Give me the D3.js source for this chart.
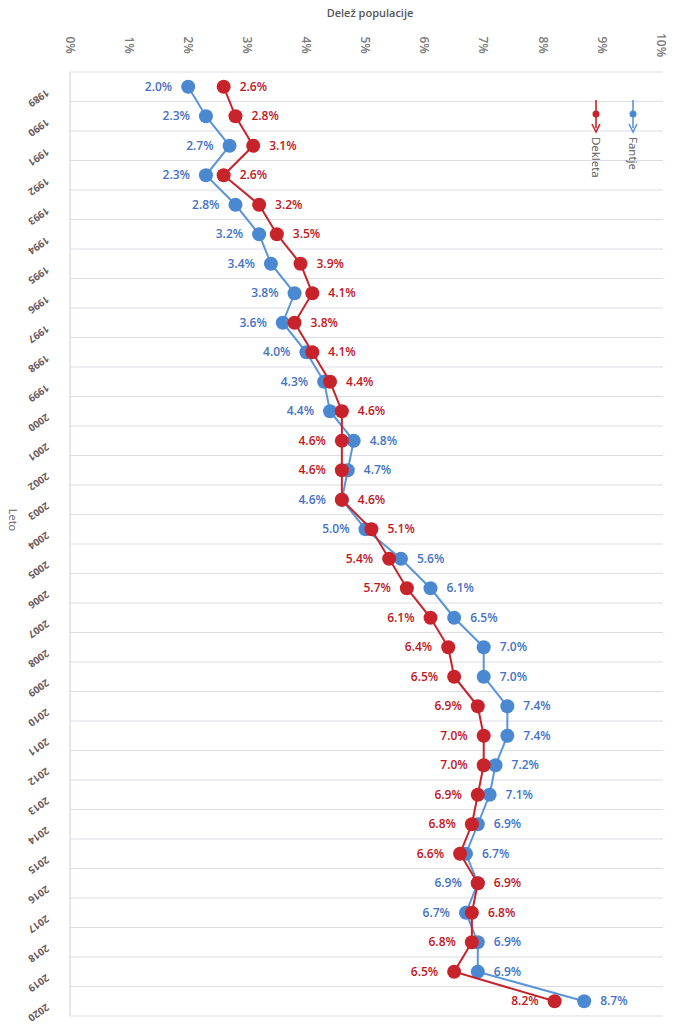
<!DOCTYPE html>
<html>
<head>
<meta charset="utf-8">
<script src="https://cdn.jsdelivr.net/npm/d3@7"></script>
<style>
  body { margin: 0; background: #fff; }
  text { font-family: "Open Sans", "Liberation Sans", sans-serif; }
</style>
</head>
<body>
<script>
var width = 685;
var height = 1029;

// Data
var years = d3.range(1989, 2021);
var fantje = [2.0, 2.3, 2.7, 2.3, 2.8, 3.2, 3.4, 3.8, 3.6, 4.0, 4.3, 4.4, 4.8, 4.7, 4.6, 5.0,
              5.6, 6.1, 6.5, 7.0, 7.0, 7.4, 7.4, 7.2, 7.1, 6.9, 6.7, 6.9, 6.7, 6.9, 6.9, 8.7];
var dekleta = [2.6, 2.8, 3.1, 2.6, 3.2, 3.5, 3.9, 4.1, 3.8, 4.1, 4.4, 4.6, 4.6, 4.6, 4.6, 5.1,
               5.4, 5.7, 6.1, 6.4, 6.5, 6.9, 7.0, 7.0, 6.9, 6.8, 6.6, 6.9, 6.8, 6.8, 6.5, 8.2];
var ticks = d3.range(0, 11);
var seriesNames = ["Fantje", "Dekleta"];

var blue = "#4a88d2";
var blueText = "#4472c4";
var red = "#c8232b";
var redText = "#c0161e";

var svg = d3.select("body")
  .append("svg")
  .attr("width", width)
  .attr("height", height);

var x = d3.scaleLinear().domain([0, 10]).range([70, 661]);
var y = d3.scaleBand().domain(years).range([72, 1016]).padding(0);
var cy = d => y(d) + y.bandwidth() / 2;

// Gridlines between rows
svg.append("g")
  .selectAll("line")
  .data(years.concat(["end"]))
  .enter()
  .append("line")
  .attr("x1", x(0))
  .attr("x2", x(10) + 2)
  .attr("y1", d => d === "end" ? y.range()[1] : y(d))
  .attr("y2", d => d === "end" ? y.range()[1] : y(d))
  .attr("stroke", "#dadde8")
  .attr("stroke-width", 1.2);

svg.append("line")
  .attr("x1", x(0)).attr("x2", x(0))
  .attr("y1", 72).attr("y2", 1016)
  .attr("stroke", "#d3d6e2")
  .attr("stroke-width", 1.2);

// Title and axis labels
svg.append("text")
  .attr("x", 370)
  .attr("y", 17)
  .attr("text-anchor", "middle")
  .attr("font-size", 11)
  .attr("font-weight", 600)
  .attr("fill", "#555")
  .text("Delež populacije");

svg.append("g")
  .selectAll("text")
  .data(ticks)
  .enter()
  .append("text")
  .attr("transform", d => "translate(" + x(d) + ",45) rotate(90)")
  .attr("text-anchor", "middle")
  .attr("dy", "0.35em")
  .attr("font-size", 12)
  .attr("font-weight", 600)
  .attr("fill", "#7a7a7a")
  .text(d => d + "%");

svg.append("text")
  .attr("transform", "translate(9,520) rotate(90)")
  .attr("text-anchor", "middle")
  .attr("font-size", 11)
  .attr("fill", "#666")
  .text("Leto");

svg.append("g")
  .selectAll("text")
  .data(years)
  .enter()
  .append("text")
  .attr("transform", d => "translate(46," + (cy(d) + 2) + ") rotate(145)")
  .attr("text-anchor", "start")
  .attr("font-size", 10)
  .attr("font-weight", 700)
  .attr("fill", "#6a5a5a")
  .text(d => d);

// Lines
var line = vals => d3.line()
  .x((d, i) => x(vals[i]))
  .y(d => cy(d))(years);

svg.append("path")
  .attr("d", line(fantje))
  .attr("fill", "none")
  .attr("stroke", "#5b95d8")
  .attr("stroke-width", 2);

svg.append("g")
  .selectAll("circle")
  .data(years)
  .enter()
  .append("circle")
  .attr("cx", (d, i) => x(fantje[i]))
  .attr("cy", d => cy(d))
  .attr("r", 7)
  .attr("fill", blue);

svg.append("path")
  .attr("d", line(dekleta))
  .attr("fill", "none")
  .attr("stroke", red)
  .attr("stroke-width", 2);

svg.append("g")
  .selectAll("circle")
  .data(years)
  .enter()
  .append("circle")
  .attr("cx", (d, i) => x(dekleta[i]))
  .attr("cy", d => cy(d))
  .attr("r", 7)
  .attr("fill", red);

// Data labels: each label goes on the side away from the other series
var off = 16;
svg.append("g")
  .selectAll("text")
  .data(years)
  .enter()
  .append("text")
  .attr("x", (d, i) => fantje[i] > dekleta[i] ? x(fantje[i]) + off : x(fantje[i]) - off)
  .attr("y", d => cy(d))
  .attr("dy", "0.35em")
  .attr("text-anchor", (d, i) => fantje[i] > dekleta[i] ? "start" : "end")
  .attr("font-size", 12)
  .attr("font-weight", 600)
  .attr("fill", blueText)
  .text((d, i) => fantje[i].toFixed(1) + "%");

svg.append("g")
  .selectAll("text")
  .data(years)
  .enter()
  .append("text")
  .attr("x", (d, i) => fantje[i] > dekleta[i] ? x(dekleta[i]) - off : x(dekleta[i]) + off)
  .attr("y", d => cy(d))
  .attr("dy", "0.35em")
  .attr("text-anchor", (d, i) => fantje[i] > dekleta[i] ? "end" : "start")
  .attr("font-size", 12)
  .attr("font-weight", 600)
  .attr("fill", redText)
  .text((d, i) => dekleta[i].toFixed(1) + "%");

// Legend (vertical, rotated)
var legend = svg.append("g")
  .selectAll("g")
  .data(seriesNames)
  .enter()
  .append("g")
  .attr("transform", (d, i) => "translate(" + (i === 0 ? 633 : 596) + ",0)");

legend.append("line")
  .attr("x1", 0).attr("x2", 0)
  .attr("y1", 100).attr("y2", 128)
  .attr("stroke", (d, i) => i === 0 ? "#5b95d8" : red)
  .attr("stroke-width", 1.6);

legend.append("circle")
  .attr("cx", 0).attr("cy", 114)
  .attr("r", 3.5)
  .attr("fill", (d, i) => i === 0 ? blue : red);

legend.append("path")
  .attr("d", "M-4,124 L0,132 L4,124")
  .attr("fill", "none")
  .attr("stroke", (d, i) => i === 0 ? "#5b95d8" : red)
  .attr("stroke-width", 1.6);

legend.append("text")
  .attr("transform", "translate(0,137) rotate(90)")
  .attr("dy", "0.35em")
  .attr("font-size", 11.5)
  .attr("fill", "#555")
  .text(d => d);
</script>
</body>
</html>
